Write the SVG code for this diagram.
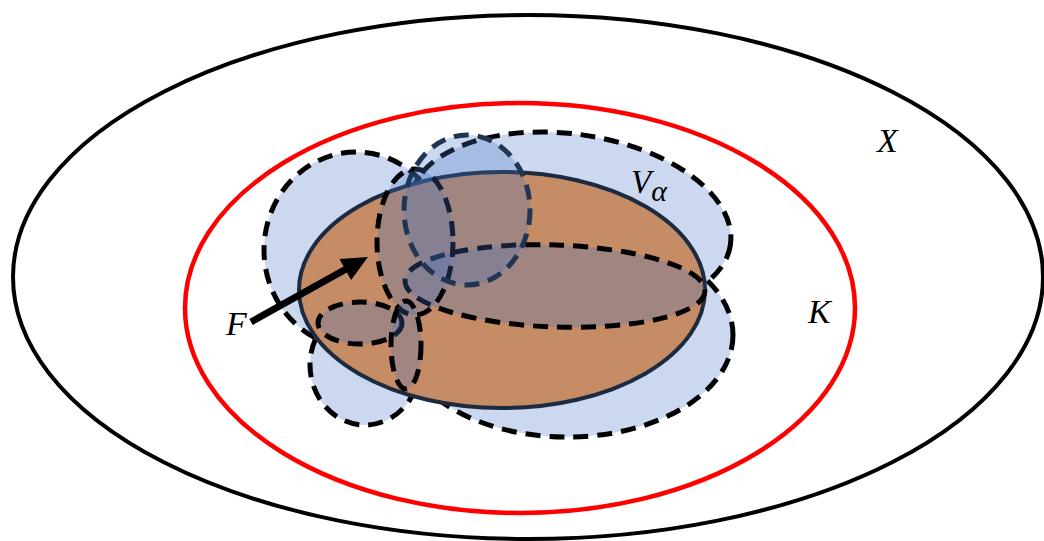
<svg xmlns="http://www.w3.org/2000/svg" width="1044" height="541" viewBox="0 0 1044 541">
  <style>
    .blob { fill: rgba(68,114,196,0.28); stroke: #000; stroke-width: 5; stroke-dasharray: 15 9; }
    .navy { stroke: #1f3552; }
    .lbl { font-family: "Liberation Serif", "DejaVu Serif", serif; font-style: italic; fill: #000; }
  </style>
  <rect width="1044" height="541" fill="#fff"/>
  <g id="X">
    <ellipse cx="528" cy="277" rx="515" ry="262" fill="none" stroke="#000" stroke-width="4"/>
    <text class="lbl" x="877" y="152" font-size="34">X</text>
  </g>
  <g id="K">
    <ellipse cx="520" cy="308" rx="335" ry="205" fill="none" stroke="#ff0000" stroke-width="4.5"/>
    <text class="lbl" x="808" y="323" font-size="34">K</text>
  </g>
  <g id="cover-under">
    <ellipse class="blob" cx="570" cy="222" rx="162" ry="88" transform="rotate(8 570 222)"/>
    <ellipse class="blob" cx="356" cy="250" rx="92" ry="98"/>
    <ellipse class="blob" cx="567" cy="335" rx="166" ry="102"/>
    <ellipse class="blob" cx="365" cy="365" rx="55" ry="60"/>
  </g>
  <g id="F">
    <ellipse cx="502" cy="290" rx="203" ry="118" fill="#c58c66" stroke="#1c2b3f" stroke-width="4"/>
    <text class="lbl" x="226" y="335" font-size="34">F</text>
  </g>
  <g id="cover-over">
    <ellipse class="blob" cx="555" cy="286" rx="150" ry="41" transform="rotate(2 555 286)"/>
    <ellipse class="blob" cx="415" cy="242" rx="38" ry="73"/>
    <ellipse class="blob" cx="360" cy="323" rx="42" ry="21"/>
    <ellipse class="blob" cx="406" cy="345" rx="15" ry="44"/>
    <ellipse class="blob navy" cx="467" cy="210" rx="63" ry="75"/>
  </g>
  <g id="Valpha">
    <text class="lbl" x="631" y="193" font-size="33" fill="#1c2b3f">V<tspan font-size="30" dy="8">α</tspan></text>
  </g>
  <g id="connectors">
    <line x1="251" y1="322" x2="348" y2="268" stroke="#000" stroke-width="7"/>
    <polygon points="368,257 351.1,280.1 339.5,259.1" fill="#000"/>
  </g>
</svg>
